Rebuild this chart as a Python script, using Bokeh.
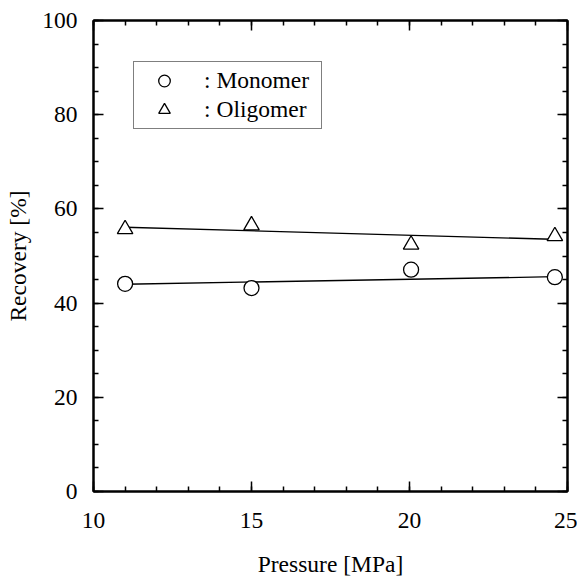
from bokeh.plotting import figure
from bokeh.models import (FixedTicker, LinearAxis, Range1d, Legend, LegendItem,
                          CustomJSTickFormatter)
from bokeh.embed import file_html
from bokeh.resources import INLINE

# ---- data ----
pressure = [11.0, 15.0, 20.05, 24.6]
monomer = [44.1, 43.2, 47.1, 45.5]
oligomer = [55.7, 56.5, 52.4, 54.2]
fit_x_mono = [11.0, 24.6]
fit_mono = [44.0, 45.6]
fit_x_olig = [11.0, 24.8]
fit_olig = [56.1, 53.5]
x_ticks = [10, 15, 20, 25]
x_minor = list(range(10, 26))
y_ticks = [0, 20, 40, 60, 80, 100]
y_minor = list(range(0, 101, 5))
labels = [": Monomer", ": Oligomer"]

FONT = "Liberation Serif"
FS = "23.5px"

p = figure(width=577, height=581, output_backend="svg", toolbar_location=None,
           x_range=Range1d(10, 25), y_range=Range1d(0, 100),
           min_border_left=93, min_border_right=10, min_border_top=20,
           min_border_bottom=90, x_axis_label="Pressure [MPa]",
           y_axis_label="Recovery [%]")
p.grid.visible = False
p.outline_line_color = "black"
p.outline_line_width = 2
p.background_fill_color = "white"
p.border_fill_color = "white"


def style(ax, ticks, minor, show_labels=True):
    ax.ticker = FixedTicker(ticks=ticks, minor_ticks=minor)
    ax.axis_line_width = 2
    ax.axis_line_color = "black"
    ax.major_tick_in = 10
    ax.major_tick_out = 0
    ax.minor_tick_in = 5
    ax.minor_tick_out = 0
    ax.major_tick_line_width = 1.5
    ax.minor_tick_line_width = 1.5
    ax.major_tick_line_color = "black"
    ax.minor_tick_line_color = "black"
    ax.major_label_text_font = FONT
    ax.major_label_text_font_size = FS
    ax.major_label_text_color = "black"
    ax.axis_label_text_font = FONT
    ax.axis_label_text_font_size = FS
    ax.axis_label_text_font_style = "normal"
    ax.axis_label_text_color = "black"
    if not show_labels:
        ax.formatter = CustomJSTickFormatter(code="return ''")
        ax.major_label_standoff = 0


style(p.xaxis[0], x_ticks, x_minor)
style(p.yaxis[0], y_ticks, y_minor)
p.xaxis[0].major_label_standoff = 21
p.xaxis[0].axis_label_standoff = 20
p.yaxis[0].major_label_standoff = 16
p.yaxis[0].axis_label_standoff = 8

top = LinearAxis()
right = LinearAxis()
style(top, x_ticks, x_minor, show_labels=False)
style(right, y_ticks, y_minor, show_labels=False)
p.add_layout(top, "above")
p.add_layout(right, "right")

p.line(fit_x_mono, fit_mono, line_color="black", line_width=1.3)
p.line(fit_x_olig, fit_olig, line_color="black", line_width=1.3)
r_mono = p.scatter(pressure, monomer, marker="circle", size=15,
                   fill_color="white", line_color="black", line_width=1.3)
r_olig = p.scatter(pressure, oligomer, marker="triangle", size=15.5,
                   fill_color="white", line_color="black", line_width=1.3)

legend = Legend(items=[LegendItem(label=labels[0], renderers=[r_mono]),
                       LegendItem(label=labels[1], renderers=[r_olig])],
                location=(40, 362), padding=4, spacing=0, margin=0,
                glyph_width=52, glyph_height=29, label_height=29,
                label_width=113, label_standoff=14, label_text_font=FONT,
                label_text_font_size=FS, label_text_color="black",
                border_line_color="black", border_line_width=1.5,
                background_fill_color="white", background_fill_alpha=1)
p.add_layout(legend, "center")

open("out.html", "w").write(file_html(p, INLINE))
